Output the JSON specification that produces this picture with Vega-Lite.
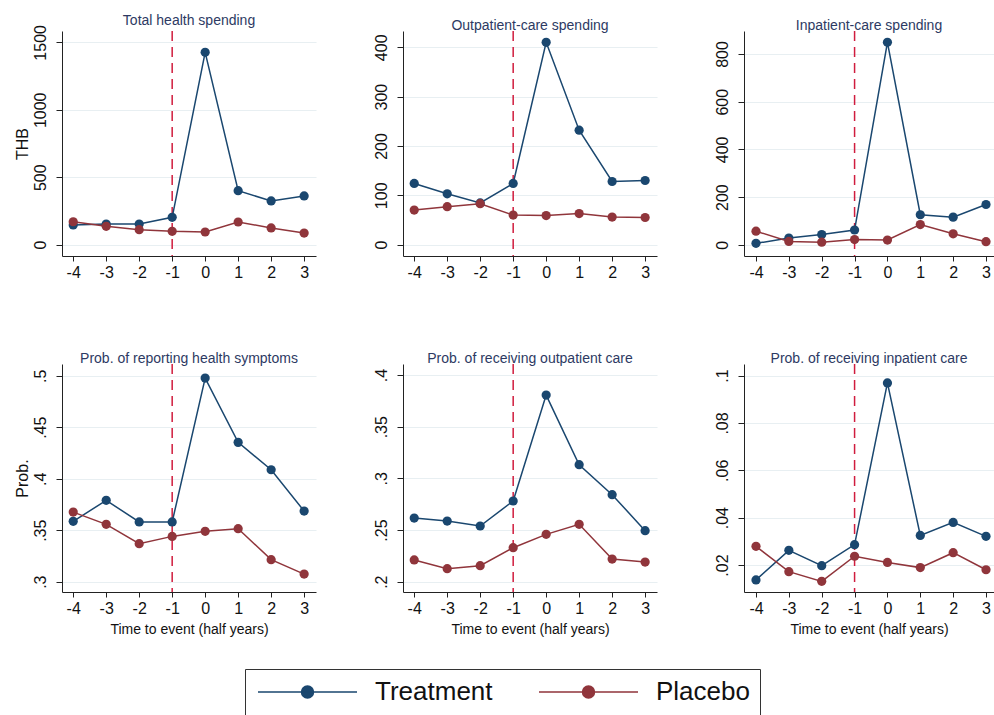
{
  "$schema": "https://vega.github.io/schema/vega-lite/v6.json",
  "padding": {"left": 14, "top": 13, "right": 0, "bottom": 0},
  "background": "white",
  "config": {
    "font": "Liberation Sans",
    "view": {"stroke": null},
    "title": {"fontSize": 14, "fontWeight": "normal", "color": "#2d3a63", "anchor": "middle", "baseline": "bottom", "offset": -3},
    "axis": {"domainColor": "#222", "tickColor": "#222", "labelColor": "#111", "labelFontSize": 16, "tickSize": 6, "grid": false, "domainWidth": 1, "titleColor": "#111", "titleFontWeight": "normal", "labelOverlap": false},
    "axisX": {"labelPadding": 3, "titleFontSize": 14, "titlePadding": 6, "tickSize": 5, "labelExpr": "'' + datum.value", "labelOverlap": false, "labelFlush": false},
    "axisY": {"grid": true, "gridColor": "#e8eff2", "gridWidth": 1.2, "labelAngle": -90, "labelAlign": "center", "labelBaseline": "bottom", "labelPadding": 8, "titleFontSize": 16, "titlePadding": 2},
    "legend": {"orient": "none", "legendX": 183, "legendY": 638, "direction": "horizontal", "labelFontSize": 26, "labelColor": "#111", "symbolSize": 400, "symbolStrokeWidth": 1.5, "labelOffset": 94, "columnPadding": 43, "padding": 10, "strokeColor": "#333", "labelLimit": 400}
  },
  "datasets": {
    "d": [
      {"panel": "p1", "group": "Treatment", "t": -4, "v": 146},
      {"panel": "p1", "group": "Treatment", "t": -3, "v": 153},
      {"panel": "p1", "group": "Treatment", "t": -2, "v": 153},
      {"panel": "p1", "group": "Treatment", "t": -1, "v": 203},
      {"panel": "p1", "group": "Treatment", "t": 0, "v": 1426},
      {"panel": "p1", "group": "Treatment", "t": 1, "v": 400},
      {"panel": "p1", "group": "Treatment", "t": 2, "v": 324},
      {"panel": "p1", "group": "Treatment", "t": 3, "v": 361},
      {"panel": "p2", "group": "Treatment", "t": -4, "v": 124},
      {"panel": "p2", "group": "Treatment", "t": -3, "v": 103},
      {"panel": "p2", "group": "Treatment", "t": -2, "v": 84.5},
      {"panel": "p2", "group": "Treatment", "t": -1, "v": 124},
      {"panel": "p2", "group": "Treatment", "t": 0, "v": 410},
      {"panel": "p2", "group": "Treatment", "t": 1, "v": 232},
      {"panel": "p2", "group": "Treatment", "t": 2, "v": 128},
      {"panel": "p2", "group": "Treatment", "t": 3, "v": 130},
      {"panel": "p3", "group": "Treatment", "t": -4, "v": 6},
      {"panel": "p3", "group": "Treatment", "t": -3, "v": 28},
      {"panel": "p3", "group": "Treatment", "t": -2, "v": 43},
      {"panel": "p3", "group": "Treatment", "t": -1, "v": 62},
      {"panel": "p3", "group": "Treatment", "t": 0, "v": 849},
      {"panel": "p3", "group": "Treatment", "t": 1, "v": 126},
      {"panel": "p3", "group": "Treatment", "t": 2, "v": 116},
      {"panel": "p3", "group": "Treatment", "t": 3, "v": 169},
      {"panel": "p4", "group": "Treatment", "t": -4, "v": 0.3586},
      {"panel": "p4", "group": "Treatment", "t": -3, "v": 0.379},
      {"panel": "p4", "group": "Treatment", "t": -2, "v": 0.358},
      {"panel": "p4", "group": "Treatment", "t": -1, "v": 0.358},
      {"panel": "p4", "group": "Treatment", "t": 0, "v": 0.4977},
      {"panel": "p4", "group": "Treatment", "t": 1, "v": 0.4353},
      {"panel": "p4", "group": "Treatment", "t": 2, "v": 0.4087},
      {"panel": "p4", "group": "Treatment", "t": 3, "v": 0.3686},
      {"panel": "p5", "group": "Treatment", "t": -4, "v": 0.2616},
      {"panel": "p5", "group": "Treatment", "t": -3, "v": 0.2587},
      {"panel": "p5", "group": "Treatment", "t": -2, "v": 0.2539},
      {"panel": "p5", "group": "Treatment", "t": -1, "v": 0.2781},
      {"panel": "p5", "group": "Treatment", "t": 0, "v": 0.3806},
      {"panel": "p5", "group": "Treatment", "t": 1, "v": 0.3132},
      {"panel": "p5", "group": "Treatment", "t": 2, "v": 0.2842},
      {"panel": "p5", "group": "Treatment", "t": 3, "v": 0.2494},
      {"panel": "p6", "group": "Treatment", "t": -4, "v": 0.0137},
      {"panel": "p6", "group": "Treatment", "t": -3, "v": 0.0262},
      {"panel": "p6", "group": "Treatment", "t": -2, "v": 0.0197},
      {"panel": "p6", "group": "Treatment", "t": -1, "v": 0.0286},
      {"panel": "p6", "group": "Treatment", "t": 0, "v": 0.0969},
      {"panel": "p6", "group": "Treatment", "t": 1, "v": 0.0325},
      {"panel": "p6", "group": "Treatment", "t": 2, "v": 0.038},
      {"panel": "p6", "group": "Treatment", "t": 3, "v": 0.0321},
      {"panel": "p1", "group": "Placebo", "t": -4, "v": 170},
      {"panel": "p1", "group": "Placebo", "t": -3, "v": 136},
      {"panel": "p1", "group": "Placebo", "t": -2, "v": 111},
      {"panel": "p1", "group": "Placebo", "t": -1, "v": 99},
      {"panel": "p1", "group": "Placebo", "t": 0, "v": 94},
      {"panel": "p1", "group": "Placebo", "t": 1, "v": 168},
      {"panel": "p1", "group": "Placebo", "t": 2, "v": 124},
      {"panel": "p1", "group": "Placebo", "t": 3, "v": 86},
      {"panel": "p2", "group": "Placebo", "t": -4, "v": 70},
      {"panel": "p2", "group": "Placebo", "t": -3, "v": 77},
      {"panel": "p2", "group": "Placebo", "t": -2, "v": 83},
      {"panel": "p2", "group": "Placebo", "t": -1, "v": 60},
      {"panel": "p2", "group": "Placebo", "t": 0, "v": 59},
      {"panel": "p2", "group": "Placebo", "t": 1, "v": 63},
      {"panel": "p2", "group": "Placebo", "t": 2, "v": 56},
      {"panel": "p2", "group": "Placebo", "t": 3, "v": 55},
      {"panel": "p3", "group": "Placebo", "t": -4, "v": 57},
      {"panel": "p3", "group": "Placebo", "t": -3, "v": 14},
      {"panel": "p3", "group": "Placebo", "t": -2, "v": 11},
      {"panel": "p3", "group": "Placebo", "t": -1, "v": 22},
      {"panel": "p3", "group": "Placebo", "t": 0, "v": 20},
      {"panel": "p3", "group": "Placebo", "t": 1, "v": 85},
      {"panel": "p3", "group": "Placebo", "t": 2, "v": 46},
      {"panel": "p3", "group": "Placebo", "t": 3, "v": 13},
      {"panel": "p4", "group": "Placebo", "t": -4, "v": 0.3676},
      {"panel": "p4", "group": "Placebo", "t": -3, "v": 0.3557},
      {"panel": "p4", "group": "Placebo", "t": -2, "v": 0.3369},
      {"panel": "p4", "group": "Placebo", "t": -1, "v": 0.344},
      {"panel": "p4", "group": "Placebo", "t": 0, "v": 0.3489},
      {"panel": "p4", "group": "Placebo", "t": 1, "v": 0.3515},
      {"panel": "p4", "group": "Placebo", "t": 2, "v": 0.3214},
      {"panel": "p4", "group": "Placebo", "t": 3, "v": 0.3074},
      {"panel": "p5", "group": "Placebo", "t": -4, "v": 0.221},
      {"panel": "p5", "group": "Placebo", "t": -3, "v": 0.2126},
      {"panel": "p5", "group": "Placebo", "t": -2, "v": 0.2155},
      {"panel": "p5", "group": "Placebo", "t": -1, "v": 0.2329},
      {"panel": "p5", "group": "Placebo", "t": 0, "v": 0.2458},
      {"panel": "p5", "group": "Placebo", "t": 1, "v": 0.2555},
      {"panel": "p5", "group": "Placebo", "t": 2, "v": 0.2219},
      {"panel": "p5", "group": "Placebo", "t": 3, "v": 0.219},
      {"panel": "p6", "group": "Placebo", "t": -4, "v": 0.0279},
      {"panel": "p6", "group": "Placebo", "t": -3, "v": 0.0172},
      {"panel": "p6", "group": "Placebo", "t": -2, "v": 0.0131},
      {"panel": "p6", "group": "Placebo", "t": -1, "v": 0.0237},
      {"panel": "p6", "group": "Placebo", "t": 0, "v": 0.0211},
      {"panel": "p6", "group": "Placebo", "t": 1, "v": 0.0189},
      {"panel": "p6", "group": "Placebo", "t": 2, "v": 0.0252},
      {"panel": "p6", "group": "Placebo", "t": 3, "v": 0.018}
    ],
    "event": [{"t": -1}]
  },
  "columns": 3,
  "bounds": "flush",
  "spacing": {"row": 108, "column": 87},
  "resolve": {"scale": {"x": "independent", "y": "independent", "color": "shared"}, "legend": {"color": "shared"}},
  "concat": [
    {
      "width": 254, "height": 225, "title": "Total health spending",
      "layer": [
        {"data": {"name": "event"}, "mark": {"type": "rule", "color": "#d01c3e", "strokeDash": [10, 6], "strokeWidth": 1.5},
         "encoding": {"x": {"field": "t", "type": "quantitative", "scale": {"domain": [-4.34, 3.36], "nice": false, "zero": false}, "axis": {"values": [-4, -3, -2, -1, 0, 1, 2, 3], "tickCount": 8, "title": null}}}},
        {"data": {"name": "d"}, "transform": [{"filter": "datum.panel === 'p1'"}],
         "encoding": {
           "x": {"field": "t", "type": "quantitative", "scale": {"domain": [-4.34, 3.36], "nice": false, "zero": false}, "axis": {"values": [-4, -3, -2, -1, 0, 1, 2, 3], "tickCount": 8, "title": null}},
           "y": {"field": "v", "type": "quantitative", "scale": {"domain": [-84, 1584], "nice": false, "zero": false}, "axis": {"values": [0, 500, 1000, 1500], "format": "d", "title": "THB"}},
           "color": {"field": "group", "type": "nominal", "scale": {"domain": ["Treatment", "Placebo"], "range": ["#1a476f", "#90353b"]},
             "legend": {"title": null, "symbolType": "M-1,0L8.9,0M3.35,0A0.6,0.6,0,1,1,4.55,0A0.6,0.6,0,1,1,3.35,0Z", "encode": {"symbols": {"update": {"fill": {"scale": "color", "field": "value"}, "stroke": {"scale": "color", "field": "value"}, "strokeWidth": {"value": 1.5}, "opacity": {"value": 1}}}}}},
           "detail": {"field": "group"}
         },
         "layer": [
           {"mark": {"type": "line", "strokeWidth": 1.5}},
           {"mark": {"type": "point", "filled": true, "size": 85, "opacity": 1}}
         ]}
      ]
    },
    {
      "width": 254, "height": 225, "title": "Outpatient-care spending",
      "layer": [
        {"data": {"name": "event"}, "mark": {"type": "rule", "color": "#d01c3e", "strokeDash": [10, 6], "strokeWidth": 1.5},
         "encoding": {"x": {"field": "t", "type": "quantitative", "scale": {"domain": [-4.34, 3.36], "nice": false, "zero": false}, "axis": {"values": [-4, -3, -2, -1, 0, 1, 2, 3], "tickCount": 8, "title": null}}}},
        {"data": {"name": "d"}, "transform": [{"filter": "datum.panel === 'p2'"}],
         "encoding": {
           "x": {"field": "t", "type": "quantitative", "scale": {"domain": [-4.34, 3.36], "nice": false, "zero": false}, "axis": {"values": [-4, -3, -2, -1, 0, 1, 2, 3], "tickCount": 8, "title": null}},
           "y": {"field": "v", "type": "quantitative", "scale": {"domain": [-23, 433], "nice": false, "zero": false}, "axis": {"values": [0, 100, 200, 300, 400], "format": "d", "title": null}},
           "color": {"field": "group", "type": "nominal", "scale": {"domain": ["Treatment", "Placebo"], "range": ["#1a476f", "#90353b"]},
             "legend": {"title": null, "symbolType": "M-1,0L8.9,0M3.35,0A0.6,0.6,0,1,1,4.55,0A0.6,0.6,0,1,1,3.35,0Z", "encode": {"symbols": {"update": {"fill": {"scale": "color", "field": "value"}, "stroke": {"scale": "color", "field": "value"}, "strokeWidth": {"value": 1.5}, "opacity": {"value": 1}}}}}},
           "detail": {"field": "group"}
         },
         "layer": [
           {"mark": {"type": "line", "strokeWidth": 1.5}},
           {"mark": {"type": "point", "filled": true, "size": 85, "opacity": 1}}
         ]}
      ]
    },
    {
      "width": 250, "height": 225, "title": "Inpatient-care spending",
      "layer": [
        {"data": {"name": "event"}, "mark": {"type": "rule", "color": "#d01c3e", "strokeDash": [10, 6], "strokeWidth": 1.5},
         "encoding": {"x": {"field": "t", "type": "quantitative", "scale": {"domain": [-4.365, 3.243], "nice": false, "zero": false}, "axis": {"values": [-4, -3, -2, -1, 0, 1, 2, 3], "tickCount": 8, "title": null}}}},
        {"data": {"name": "d"}, "transform": [{"filter": "datum.panel === 'p3'"}],
         "encoding": {
           "x": {"field": "t", "type": "quantitative", "scale": {"domain": [-4.365, 3.243], "nice": false, "zero": false}, "axis": {"values": [-4, -3, -2, -1, 0, 1, 2, 3], "tickCount": 8, "title": null}},
           "y": {"field": "v", "type": "quantitative", "scale": {"domain": [-47, 896.5], "nice": false, "zero": false}, "axis": {"values": [0, 200, 400, 600, 800], "format": "d", "title": null}},
           "color": {"field": "group", "type": "nominal", "scale": {"domain": ["Treatment", "Placebo"], "range": ["#1a476f", "#90353b"]},
             "legend": {"title": null, "symbolType": "M-1,0L8.9,0M3.35,0A0.6,0.6,0,1,1,4.55,0A0.6,0.6,0,1,1,3.35,0Z", "encode": {"symbols": {"update": {"fill": {"scale": "color", "field": "value"}, "stroke": {"scale": "color", "field": "value"}, "strokeWidth": {"value": 1.5}, "opacity": {"value": 1}}}}}},
           "detail": {"field": "group"}
         },
         "layer": [
           {"mark": {"type": "line", "strokeWidth": 1.5}},
           {"mark": {"type": "point", "filled": true, "size": 85, "opacity": 1}}
         ]}
      ]
    },
    {
      "width": 254, "height": 228, "title": "Prob. of reporting health symptoms",
      "layer": [
        {"data": {"name": "event"}, "mark": {"type": "rule", "color": "#d01c3e", "strokeDash": [10, 6], "strokeWidth": 1.5},
         "encoding": {"x": {"field": "t", "type": "quantitative", "scale": {"domain": [-4.34, 3.36], "nice": false, "zero": false}, "axis": {"values": [-4, -3, -2, -1, 0, 1, 2, 3], "tickCount": 8, "title": "Time to event (half years)"}}}},
        {"data": {"name": "d"}, "transform": [{"filter": "datum.panel === 'p4'"}],
         "encoding": {
           "x": {"field": "t", "type": "quantitative", "scale": {"domain": [-4.34, 3.36], "nice": false, "zero": false}, "axis": {"values": [-4, -3, -2, -1, 0, 1, 2, 3], "tickCount": 8, "title": "Time to event (half years)"}},
           "y": {"field": "v", "type": "quantitative", "scale": {"domain": [0.29, 0.5114], "nice": false, "zero": false}, "axis": {"values": [0.3, 0.35, 0.4, 0.45, 0.5], "labelExpr": "substring(format(datum.value, '.2~f'), 1)", "title": "Prob."}},
           "color": {"field": "group", "type": "nominal", "scale": {"domain": ["Treatment", "Placebo"], "range": ["#1a476f", "#90353b"]},
             "legend": {"title": null, "symbolType": "M-1,0L8.9,0M3.35,0A0.6,0.6,0,1,1,4.55,0A0.6,0.6,0,1,1,3.35,0Z", "encode": {"symbols": {"update": {"fill": {"scale": "color", "field": "value"}, "stroke": {"scale": "color", "field": "value"}, "strokeWidth": {"value": 1.5}, "opacity": {"value": 1}}}}}},
           "detail": {"field": "group"}
         },
         "layer": [
           {"mark": {"type": "line", "strokeWidth": 1.5}},
           {"mark": {"type": "point", "filled": true, "size": 85, "opacity": 1}}
         ]}
      ]
    },
    {
      "width": 254, "height": 228, "title": "Prob. of receiving outpatient care",
      "layer": [
        {"data": {"name": "event"}, "mark": {"type": "rule", "color": "#d01c3e", "strokeDash": [10, 6], "strokeWidth": 1.5},
         "encoding": {"x": {"field": "t", "type": "quantitative", "scale": {"domain": [-4.34, 3.36], "nice": false, "zero": false}, "axis": {"values": [-4, -3, -2, -1, 0, 1, 2, 3], "tickCount": 8, "title": "Time to event (half years)"}}}},
        {"data": {"name": "d"}, "transform": [{"filter": "datum.panel === 'p5'"}],
         "encoding": {
           "x": {"field": "t", "type": "quantitative", "scale": {"domain": [-4.34, 3.36], "nice": false, "zero": false}, "axis": {"values": [-4, -3, -2, -1, 0, 1, 2, 3], "tickCount": 8, "title": "Time to event (half years)"}},
           "y": {"field": "v", "type": "quantitative", "scale": {"domain": [0.19, 0.4107], "nice": false, "zero": false}, "axis": {"values": [0.2, 0.25, 0.3, 0.35, 0.4], "labelExpr": "substring(format(datum.value, '.2~f'), 1)", "title": null}},
           "color": {"field": "group", "type": "nominal", "scale": {"domain": ["Treatment", "Placebo"], "range": ["#1a476f", "#90353b"]},
             "legend": {"title": null, "symbolType": "M-1,0L8.9,0M3.35,0A0.6,0.6,0,1,1,4.55,0A0.6,0.6,0,1,1,3.35,0Z", "encode": {"symbols": {"update": {"fill": {"scale": "color", "field": "value"}, "stroke": {"scale": "color", "field": "value"}, "strokeWidth": {"value": 1.5}, "opacity": {"value": 1}}}}}},
           "detail": {"field": "group"}
         },
         "layer": [
           {"mark": {"type": "line", "strokeWidth": 1.5}},
           {"mark": {"type": "point", "filled": true, "size": 85, "opacity": 1}}
         ]}
      ]
    },
    {
      "width": 250, "height": 228, "title": "Prob. of receiving inpatient care",
      "layer": [
        {"data": {"name": "event"}, "mark": {"type": "rule", "color": "#d01c3e", "strokeDash": [10, 6], "strokeWidth": 1.5},
         "encoding": {"x": {"field": "t", "type": "quantitative", "scale": {"domain": [-4.365, 3.243], "nice": false, "zero": false}, "axis": {"values": [-4, -3, -2, -1, 0, 1, 2, 3], "tickCount": 8, "title": "Time to event (half years)"}}}},
        {"data": {"name": "d"}, "transform": [{"filter": "datum.panel === 'p6'"}],
         "encoding": {
           "x": {"field": "t", "type": "quantitative", "scale": {"domain": [-4.365, 3.243], "nice": false, "zero": false}, "axis": {"values": [-4, -3, -2, -1, 0, 1, 2, 3], "tickCount": 8, "title": "Time to event (half years)"}},
           "y": {"field": "v", "type": "quantitative", "scale": {"domain": [0.0086, 0.1049], "nice": false, "zero": false}, "axis": {"values": [0.02, 0.04, 0.06, 0.08, 0.1], "labelExpr": "substring(format(datum.value, '.2~f'), 1)", "title": null}},
           "color": {"field": "group", "type": "nominal", "scale": {"domain": ["Treatment", "Placebo"], "range": ["#1a476f", "#90353b"]},
             "legend": {"title": null, "symbolType": "M-1,0L8.9,0M3.35,0A0.6,0.6,0,1,1,4.55,0A0.6,0.6,0,1,1,3.35,0Z", "encode": {"symbols": {"update": {"fill": {"scale": "color", "field": "value"}, "stroke": {"scale": "color", "field": "value"}, "strokeWidth": {"value": 1.5}, "opacity": {"value": 1}}}}}},
           "detail": {"field": "group"}
         },
         "layer": [
           {"mark": {"type": "line", "strokeWidth": 1.5}},
           {"mark": {"type": "point", "filled": true, "size": 85, "opacity": 1}}
         ]}
      ]
    }
  ]
}
